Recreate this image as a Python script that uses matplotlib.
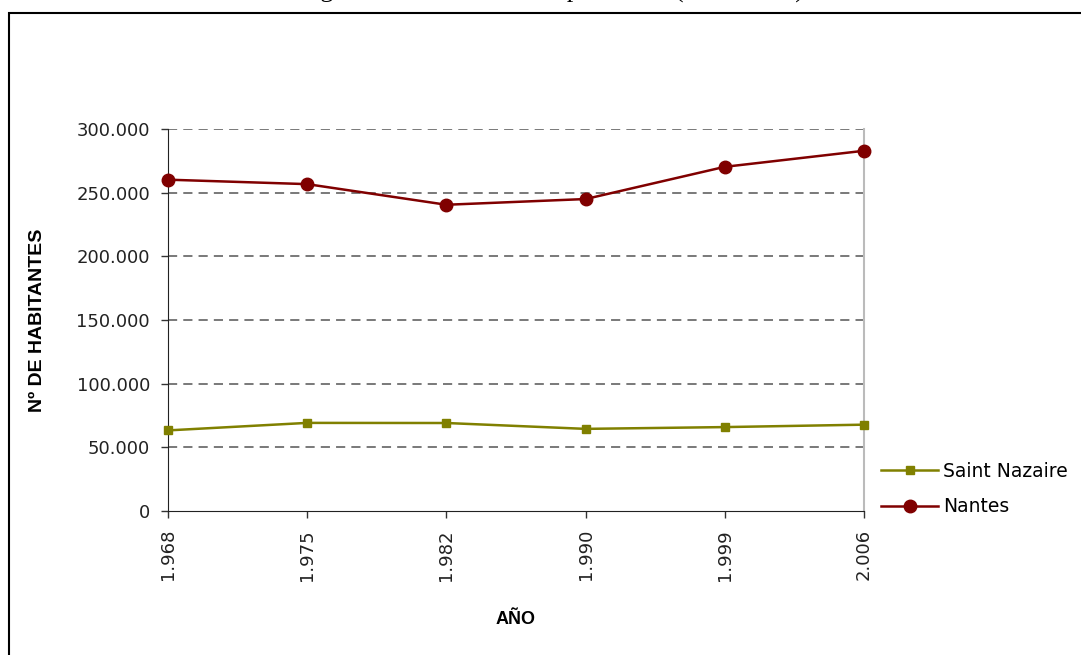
import matplotlib.pyplot as plt
from matplotlib.patches import Rectangle

# population by census year
years = ["1.968", "1.975", "1.982", "1.990", "1.999", "2.006"]
saint_nazaire = [63300, 69200, 69100, 64500, 65900, 67800]
nantes = [260200, 256700, 240500, 245000, 270300, 282900]
y_ticks = [0, 50000, 100000, 150000, 200000, 250000, 300000]
y_tick_labels = ["0", "50.000", "100.000", "150.000", "200.000", "250.000", "300.000"]

fig = plt.figure(figsize=(10.81, 6.55), dpi=100)
ax = fig.add_axes([168 / 1081, 1 - 511 / 655, (864 - 168) / 1081, (511 - 129) / 655])

# caption above the chart frame (only its lower part falls inside the page)
fig.text(0.51, 1 + 2.5 / 655, "Figura 5. Evolución de la población (1968-2006)",
         ha="center", va="baseline", fontsize=18.5, family="Liberation Serif")

# outer frame
fig.patches.append(Rectangle((9 / 1081, -0.2), 1.2, 1.2 - 13 / 655,
                             transform=fig.transFigure, fill=False,
                             edgecolor="black", linewidth=1.5))

x = list(range(len(years)))
ax.plot(x, saint_nazaire, color="#808000", marker="s", markersize=5.5,
        linewidth=1.8, label="Saint Nazaire", clip_on=False, zorder=3)
ax.plot(x, nantes, color="#800000", marker="o", markersize=9,
        linewidth=1.8, label="Nantes", clip_on=False, zorder=3)

ax.set_xlim(0, len(years) - 1)
ax.set_ylim(0, 300000)
ax.set_xticks(x)
ax.set_xticklabels(years, rotation=90, fontsize=13, color="#222222")
ax.set_yticks(y_ticks)
ax.set_yticklabels(y_tick_labels, fontsize=13, color="#222222")
ax.tick_params(axis="both", direction="out", length=5, width=1, color="#333333", pad=8)

# dashed horizontal grid
for v in y_ticks[1:]:
    ax.axhline(v, color="#555555", linewidth=1.1, linestyle=(0, (6, 4)), zorder=1)

ax.spines["top"].set_visible(False)
ax.spines["right"].set_color("#bbbbbb")
ax.spines["right"].set_linewidth(1.5)
ax.spines["left"].set_color("#222222")
ax.spines["bottom"].set_color("#222222")

ax.set_ylabel("Nº DE HABITANTES", fontsize=14, fontweight="bold",
              family="Liberation Sans", labelpad=22)
ax.set_xlabel("AÑO", fontsize=13, fontweight="bold", family="Liberation Sans",
              labelpad=22)

ax.legend(loc="center left", bbox_to_anchor=(872 / 1081, 1 - 489 / 655),
          bbox_transform=fig.transFigure, frameon=False, fontsize=13.5,
          handlelength=3, labelspacing=0.9, handletextpad=0.3, borderpad=0)

fig.savefig("out.png", dpi=100)
